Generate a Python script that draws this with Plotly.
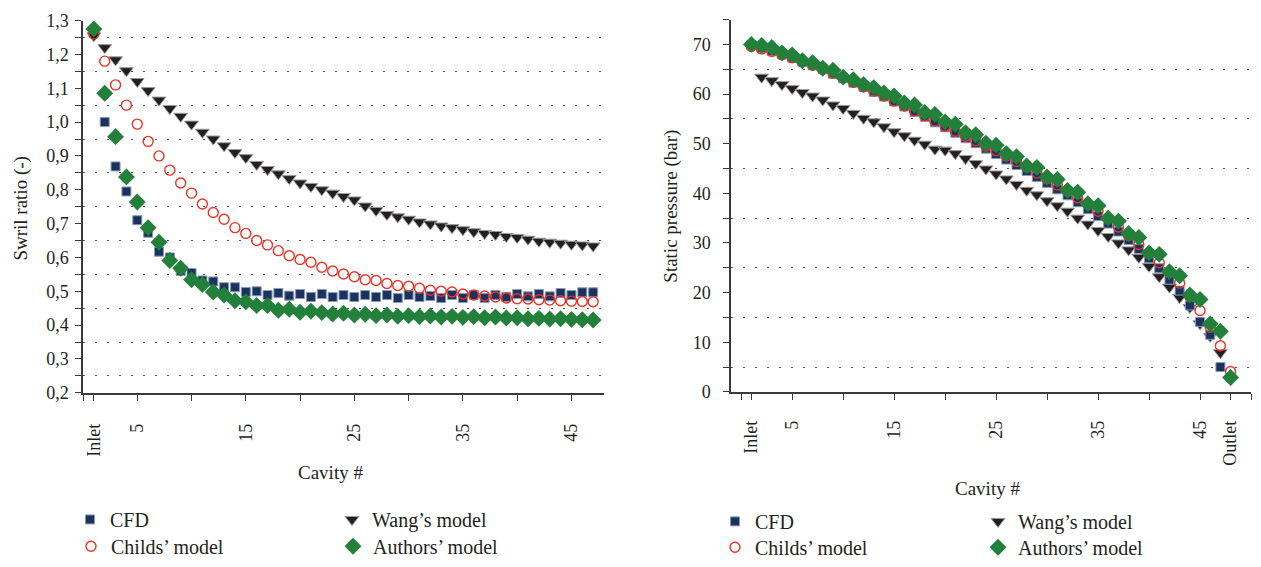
import plotly.graph_objects as go

# ---------------- data ----------------
cav_left = list(range(1, 48))  # cavities 1 (Inlet) .. 47

swirl_cfd = [1.265, 1.000, 0.869, 0.795, 0.710, 0.673, 0.617, 0.600, 0.560, 0.554,
             0.532, 0.529, 0.512, 0.512, 0.498, 0.500, 0.489, 0.495, 0.487, 0.492,
             0.483, 0.492, 0.483, 0.489, 0.483, 0.489, 0.483, 0.489, 0.480, 0.489,
             0.483, 0.486, 0.480, 0.489, 0.480, 0.489, 0.480, 0.489, 0.483, 0.492,
             0.485, 0.492, 0.485, 0.495, 0.489, 0.497, 0.497]
swirl_wang = [1.255, 1.220, 1.184, 1.152, 1.120, 1.093, 1.065, 1.040, 1.017, 0.994,
              0.970, 0.950, 0.930, 0.910, 0.895, 0.875, 0.860, 0.847, 0.833, 0.820,
              0.810, 0.800, 0.790, 0.780, 0.770, 0.752, 0.739, 0.727, 0.720, 0.713,
              0.705, 0.699, 0.693, 0.688, 0.682, 0.676, 0.671, 0.668, 0.662, 0.659,
              0.654, 0.648, 0.645, 0.642, 0.639, 0.637, 0.634]
swirl_childs = [1.260, 1.180, 1.110, 1.050, 0.994, 0.943, 0.900, 0.858, 0.820, 0.790,
                0.758, 0.733, 0.713, 0.688, 0.671, 0.650, 0.637, 0.620, 0.605, 0.594,
                0.586, 0.571, 0.560, 0.551, 0.543, 0.534, 0.532, 0.523, 0.517, 0.515,
                0.509, 0.503, 0.500, 0.498, 0.492, 0.489, 0.486, 0.483, 0.480, 0.478,
                0.477, 0.475, 0.474, 0.472, 0.471, 0.470, 0.469]
swirl_authors = [1.275, 1.085, 0.957, 0.838, 0.764, 0.688, 0.645, 0.591, 0.568, 0.534,
                 0.520, 0.498, 0.489, 0.472, 0.469, 0.458, 0.458, 0.444, 0.447, 0.438,
                 0.441, 0.437, 0.433, 0.435, 0.430, 0.432, 0.428, 0.430, 0.426, 0.428,
                 0.425, 0.427, 0.424, 0.426, 0.423, 0.425, 0.422, 0.424, 0.421, 0.422,
                 0.419, 0.420, 0.418, 0.419, 0.417, 0.416, 0.415]

cav_cfd_r = list(range(1, 48))
press_cfd = [69.9, 69.3, 68.7, 68.0, 67.3, 66.5, 65.8, 65.0, 64.1, 63.2,
             62.3, 61.4, 60.4, 59.5, 58.5, 57.5, 56.4, 55.4, 54.3, 53.3,
             52.2, 51.1, 50.1, 49.0, 47.9, 46.8, 45.7, 44.5, 43.3, 42.1,
             40.8, 39.6, 38.2, 36.8, 35.4, 33.9, 32.3, 30.6, 28.8, 26.9,
             24.9, 22.6, 20.4, 17.4, 14.1, 11.5, 5.0]
cav_wang_r = list(range(2, 48))
press_wang = [63.4, 62.7, 61.9, 61.1, 60.3, 59.6, 58.8, 57.8, 57.1, 56.1,
              55.1, 54.4, 53.4, 52.4, 51.6, 50.7, 49.9, 48.9, 48.7, 48.0,
              47.0, 46.0, 44.9, 43.9, 42.9, 41.8, 40.6, 39.7, 38.5, 37.5,
              36.4, 35.0, 33.8, 32.5, 31.3, 30.0, 28.6, 27.1, 25.3, 23.2,
              21.1, 19.0, 17.0, 13.7, 11.2, 7.9]
cav_childs_r = list(range(1, 49))
press_childs = [69.6, 69.1, 68.6, 67.9, 67.3, 66.5, 65.8, 65.0, 64.2, 63.3,
                62.4, 61.5, 60.6, 59.6, 58.6, 57.6, 56.6, 55.6, 54.6, 53.5,
                52.5, 51.5, 50.6, 49.5, 48.6, 47.5, 46.4, 45.3, 44.1, 42.9,
                41.7, 40.4, 39.1, 37.8, 36.4, 34.9, 33.2, 31.5, 29.7, 27.9,
                26.0, 24.0, 21.9, 19.2, 16.4, 13.0, 9.3, 4.1]
cav_auth_r = list(range(1, 49))
press_authors = [70.0, 69.8, 69.4, 68.3, 67.9, 66.7, 66.3, 65.2, 64.8, 63.4,
                 62.9, 61.9, 61.3, 60.2, 59.6, 58.2, 57.8, 56.3, 55.9, 54.4,
                 53.9, 52.2, 51.8, 50.1, 49.7, 48.0, 47.4, 45.5, 45.2, 43.3,
                 42.8, 40.6, 40.2, 37.9, 37.5, 35.0, 34.4, 31.9, 31.1, 28.0,
                 27.7, 24.2, 23.4, 19.5, 18.6, 13.7, 12.2, 2.9]

left_xtick_vals = [0, 1, 5, 10, 15, 20, 25, 30, 35, 40, 45]
left_xtick_text = ["", "Inlet", "5", "", "15", "", "25", "", "35", "", "45"]
right_xtick_vals = [0, 1, 5, 10, 15, 20, 25, 30, 35, 40, 45, 48, 50]
right_xtick_text = ["", "Inlet", "5", "", "15", "", "25", "", "35", "", "45", "Outlet", ""]
left_ytick_vals = [0.2, 0.3, 0.4, 0.5, 0.6, 0.7, 0.8, 0.9, 1.0, 1.1, 1.2, 1.3]
left_ytick_text = ["0,2", "0,3", "0,4", "0,5", "0,6", "0,7", "0,8", "0,9", "1,0", "1,1", "1,2", "1,3"]
right_ytick_vals = [0, 10, 20, 30, 40, 50, 60, 70]

names = ["CFD", "Wang\u2019s model", "Childs\u2019 model", "Authors\u2019 model"]

# ---------------- styles ----------------
W, H = 1261, 567
FONT = "Liberation Serif"
TXT = "#231f20"
NAVY = "#1b315e"
RED = "#ee3124"
GREEN = "#23803b"
BLK = "#231f20"

sty = {
    "CFD": dict(symbol="square", size=9, color=NAVY, line=dict(color="#8a9bb8", width=1)),
    "Wang": dict(symbol="triangle-down", size=12, color=BLK, line=dict(color="#9a9a9a", width=1)),
    "Childs": dict(symbol="circle-open", size=10, color=RED, line=dict(color=RED, width=1.4)),
    "Authors": dict(symbol="diamond", size=13, color=GREEN, line=dict(width=0)),
}

fig = go.Figure()

def add(x, y, key, name, xa, ya, leg):
    fig.add_trace(go.Scatter(x=x, y=y, mode="markers", name=name, marker=sty[key],
                             xaxis=xa, yaxis=ya, legend=leg, showlegend=True))

# left panel
add(cav_left, swirl_cfd, "CFD", names[0], "x", "y", "legend")
add(cav_left, swirl_wang, "Wang", names[1], "x", "y", "legend2")
add(cav_left, swirl_childs, "Childs", names[2], "x", "y", "legend3")
add(cav_left, swirl_authors, "Authors", names[3], "x", "y", "legend4")
# right panel
add(cav_wang_r, press_wang, "Wang", names[1], "x2", "y2", "legend6")
add(cav_cfd_r, press_cfd, "CFD", names[0], "x2", "y2", "legend5")
add(cav_childs_r, press_childs, "Childs", names[2], "x2", "y2", "legend7")
add(cav_auth_r, press_authors, "Authors", names[3], "x2", "y2", "legend8")

def px(x):
    return x / W

def py(y):
    return 1 - y / H

axis_common = dict(showline=True, linecolor="#3a3a3a", linewidth=1.5, ticks="outside",
                   ticklen=6, tickwidth=1.2, tickcolor="#3a3a3a", zeroline=False,
                   tickfont=dict(family=FONT, size=18, color=TXT), mirror=False)

grid_dash = "2px,10px"

fig.update_layout(
    width=W, height=H, margin=dict(l=0, r=0, t=0, b=0),
    paper_bgcolor="white", plot_bgcolor="white",
    font=dict(family=FONT, color=TXT),
    xaxis=dict(domain=[px(83), px(604)], range=[0, 48], anchor="y",
               tickmode="array", tickvals=left_xtick_vals, ticktext=left_xtick_text,
               tickangle=-90, showgrid=False, ticklabelstandoff=16, **axis_common),
    yaxis=dict(domain=[py(399), py(11)], range=[0.2, 1.3], anchor="x",
               tickmode="array", tickvals=left_ytick_vals, ticktext=left_ytick_text,
               showgrid=False, ticklabelstandoff=3,
               minor=dict(tick0=0.25, dtick=0.1, ticks="outside", ticklen=6, tickcolor="#3a3a3a",
                          showgrid=True, gridcolor="#555555", gridwidth=1, griddash=grid_dash),
               **axis_common),
    xaxis2=dict(domain=[px(731), px(1251)], range=[-1, 50], anchor="y2",
                tickmode="array", tickvals=right_xtick_vals, ticktext=right_xtick_text,
                tickangle=-90, showgrid=False, ticklabelstandoff=14, **axis_common),
    yaxis2=dict(domain=[py(398), py(10)], range=[0, 75], anchor="x2",
                tickmode="array", tickvals=right_ytick_vals,
                showgrid=False, ticklabelstandoff=9,
                minor=dict(tick0=5, dtick=10, ticks="outside", ticklen=6, tickcolor="#3a3a3a",
                           showgrid=True, gridcolor="#555555", gridwidth=1, griddash=grid_dash),
                **axis_common),
)

# axis titles
ann = [
    dict(text="Cavity #", x=px(330), y=py(482)),
    dict(text="Cavity #", x=px(987), y=py(499)),
    dict(text="Swril ratio (-)", x=px(21), y=py(207), textangle=-90),
    dict(text="Static pressure (bar)", x=px(671), y=py(205), textangle=-90),
]
for a in ann:
    fig.add_annotation(xref="paper", yref="paper", showarrow=False,
                       xanchor="center", yanchor="middle",
                       font=dict(family=FONT, size=19, color=TXT), **a)

# legends: one per entry, positioned at the symbol centre
leg_pos = {
    "legend": (90, 531), "legend2": (352, 531), "legend3": (91, 559), "legend4": (353, 559),
    "legend5": (735, 533), "legend6": (998, 533), "legend7": (735, 560), "legend8": (998, 560),
}
for k, (mx, my) in leg_pos.items():
    fig.update_layout({k: dict(x=px(mx - 20), y=py(my), xanchor="left", yanchor="middle",
                               bgcolor="rgba(0,0,0,0)", borderwidth=0,
                               font=dict(family=FONT, size=20, color=TXT),
                               itemwidth=30)})

fig.write_html("out.html")
